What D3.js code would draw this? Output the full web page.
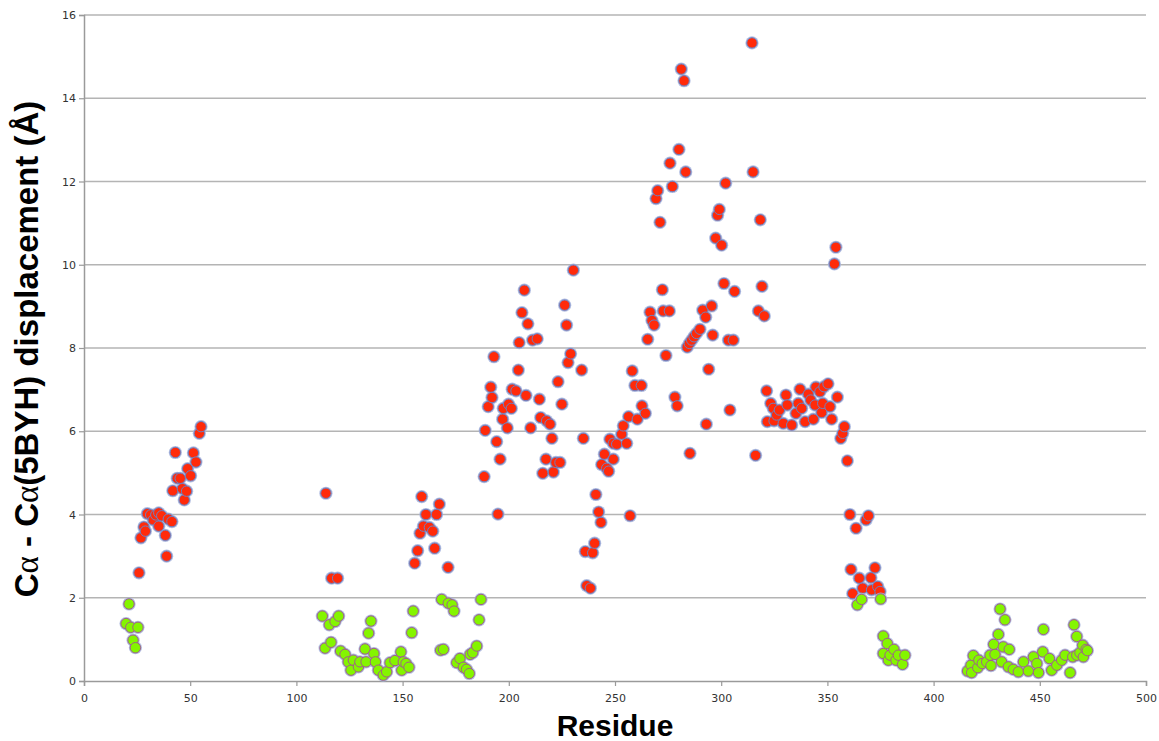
<!DOCTYPE html>
<html><head><meta charset="utf-8">
<script src="https://cdn.jsdelivr.net/npm/d3@7"></script>
<style>body{margin:0;background:#fff;}svg{display:block;}</style>
</head><body>
<script>
const xTicks = [0,50,100,150,200,250,300,350,400,450,500];
const yTicks = [0,2,4,6,8,10,12,14,16];

const redX = [25.9,26.8,28.2,28.9,29.8,31.4,32.6,33.8,35.2,35.2,36.6,38.3,38.9,39.7,41.4,41.8,43,43.9,45.3,46.3,47.2,48.3,48.8,50.2,51.5,52.7,54.3,55.1,
113.9,116.6,119.4,155.7,157.1,158.2,159,159.8,161,162.6,164.2,165.1,166,167.3,171.4,188.4,
188.9,190.3,191.5,192.1,193,194.3,194.9,195.9,197.1,197.4,199.3,199.9,201.2,201.6,203.4,204.5,204.9,206.2,207.3,208.1,209,210.3,211.2,213.4,214.4,215,216,217.5,217.8,219.4,220.3,221,222.2,223.2,224.1,225,226.3,227.2,227.9,229.1,230.4,234.3,235.1,
236,236.7,238.4,239.5,240.4,241,242.3,243.4,243.7,245,246.1,247,247.6,249.2,249.2,250.8,253.1,253.9,255.5,256.4,257.1,258.1,259.4,260.5,262.4,262.7,264.3,265.4,
266.5,267.4,268.4,269.3,270.1,271.2,272.3,272.7,274,275.6,275.9,277,278.2,279.3,280.1,281.2,282.5,283.3,284,285,285.3,286.1,287.2,288.4,290,291.3,292.7,293,294.1,295.5,296,297.4,298.3,299.1,300.2,301.3,302.1,303.4,304.1,305.7,306.3,314.5,315,316.2,317.5,318.4,319.2,320.3,
321.4,321.7,323.3,324.5,324.9,326.1,327.4,329.2,330.5,331.1,333.2,335.2,336.3,337.1,337.9,339.5,341,342.1,343.4,344.2,344.6,346.5,347.3,347.8,348.4,350.3,351.2,352,353.3,354,354.7,356.3,357.2,358,359.4,360.6,361.1,361.9,363.5,365,366.6,368.2,369.3,370.5,370.8,372.4,373.7,374.8];
const redY = [2.6,3.44,3.7,3.6,4.02,3.99,3.87,3.99,4.04,3.72,3.97,3.5,3.0,3.89,3.83,4.57,5.49,4.87,4.87,4.62,4.35,4.56,5.1,4.93,5.48,5.26,5.95,6.11,
4.51,2.47,2.47,2.83,3.13,3.55,4.43,3.72,4.0,3.69,3.6,3.19,4.0,4.25,2.73,4.91,
6.02,6.59,7.06,6.81,7.79,5.75,4.01,5.33,6.29,6.55,6.08,6.65,6.55,7.01,6.97,7.47,8.13,8.85,9.39,6.86,8.58,6.08,8.19,8.22,6.77,6.33,4.99,5.33,6.25,6.17,5.83,5.02,5.25,7.19,5.25,6.65,9.03,8.55,7.65,7.86,9.87,7.47,5.83,
3.11,2.29,2.23,3.08,3.31,4.48,4.06,3.81,5.2,5.45,5.11,5.04,5.81,5.71,5.33,5.69,5.93,6.13,5.71,6.35,3.97,7.45,7.1,6.29,7.1,6.61,6.43,8.21,
8.86,8.66,8.55,11.59,11.78,11.02,9.4,8.89,7.82,8.89,12.44,11.88,6.82,6.61,12.77,14.7,14.42,12.23,8.02,8.11,5.47,8.19,8.27,8.35,8.45,8.91,8.74,6.17,7.49,9.01,8.31,10.64,11.19,11.33,10.47,9.55,11.96,8.19,6.51,8.19,9.36,15.33,12.23,5.42,8.89,11.08,9.48,8.77,
6.97,6.23,6.67,6.55,6.25,6.39,6.51,6.19,6.87,6.63,6.15,6.43,6.67,7.01,6.55,6.23,6.89,6.75,6.29,6.63,7.06,6.95,6.45,6.67,7.07,7.14,6.59,6.29,10.02,10.42,6.82,5.83,5.95,6.11,5.29,4.0,2.68,2.1,3.67,2.47,2.23,3.87,3.97,2.48,2.19,2.72,2.27,2.15];

const greenX = [19.8,21.2,22,23.1,24.2,25.4,
112.2,113.5,115.5,116.3,118.2,119.9,120.8,122.9,124.4,125.7,126.8,129.2,129.9,132.3,132.8,134,135.1,136.5,137.2,138.6,140.9,142.5,144.1,146.4,149.2,149.6,150.3,151.6,153,154.3,155,167.9,169.2,168.4,171.5,173.3,174.2,175.5,177,178.6,180.1,181.4,181.8,183,184.9,186,186.9,
364.1,366.1,375.1,376.3,376.3,378.2,378.7,379.5,381.3,382.3,383.4,385.4,386.5,
416,417.6,417.9,418.7,420.8,421.3,422.9,425,426.6,427,428.3,428.9,430.5,431.3,432,432.8,433.6,435.2,435.6,437.5,439.9,442.3,444.6,447,448.6,449.4,451.4,451.7,454.5,455.6,458,460.3,461.9,464.3,465.5,466.1,467.4,467.4,468.9,470.2,470.5,471.8,472.4];
const greenY = [1.38,1.85,1.29,0.98,0.80,1.29,
1.56,0.79,1.35,0.93,1.43,1.56,0.72,0.64,0.46,0.26,0.5,0.34,0.46,0.77,0.46,1.15,1.44,0.66,0.46,0.26,0.14,0.22,0.44,0.49,0.7,0.26,0.46,0.42,0.33,1.16,1.68,0.74,0.76,1.96,1.87,1.83,1.68,0.44,0.54,0.33,0.28,0.18,0.64,0.68,0.84,1.47,1.96,
1.83,1.96,1.97,1.08,0.66,0.9,0.5,0.62,0.76,0.5,0.62,0.4,0.62,
0.24,0.38,0.2,0.61,0.32,0.5,0.42,0.46,0.62,0.37,0.88,0.64,1.12,1.73,0.46,0.82,1.47,0.34,0.76,0.28,0.22,0.46,0.24,0.58,0.42,0.2,0.7,1.24,0.54,0.26,0.38,0.5,0.62,0.2,0.58,1.35,1.07,0.62,0.68,0.86,0.58,0.76,0.73];

const W = 1159, H = 741;
const L = 84, R = 1146, T = 15, B = 681;
const svg = d3.select("body").append("svg").attr("width", W).attr("height", H);
const x = d3.scaleLinear().domain([0,500]).range([L,R]);
const y = d3.scaleLinear().domain([0,16]).range([B,T]);

// gridlines
svg.append("g").selectAll("line").data(yTicks.filter(d=>d>0)).join("line")
  .attr("x1", L).attr("x2", R).attr("y1", d=>y(d)).attr("y2", d=>y(d))
  .attr("stroke", "#b4b4b4").attr("stroke-width", 1.5);

const tickFont = "'DejaVu Sans', sans-serif";
const yAxis = svg.append("g").attr("transform", `translate(${L},0)`)
  .call(d3.axisLeft(y).tickValues(yTicks).tickSize(5).tickPadding(3).tickFormat(d3.format("d")));
const xAxis = svg.append("g").attr("transform", `translate(0,${B})`)
  .call(d3.axisBottom(x).tickValues(xTicks).tickSize(5).tickPadding(8).tickFormat(d3.format("d")));
[xAxis, yAxis].forEach(a => {
  a.select(".domain").attr("stroke", "#9a9a9a").attr("stroke-width", 1.5);
  a.selectAll(".tick line").attr("stroke", "#9a9a9a").attr("stroke-width", 1.2);
  a.selectAll(".tick text").attr("fill", "#333").style("font-family", tickFont).style("font-size", "11px");
});

function drawPts(xs, ys, fill, ring) {
  const data = xs.map((v,i)=>({x:v, y:ys[i]}));
  const g = svg.append("g");
  g.selectAll("circle.h").data(data).join("circle").attr("class","h")
    .attr("cx", d=>x(d.x)).attr("cy", d=>y(d.y)).attr("r", 6.6)
    .attr("fill", "#a4b3dc").attr("opacity", 0.85);
  g.selectAll("circle.p").data(data).join("circle").attr("class","p")
    .attr("cx", d=>x(d.x)).attr("cy", d=>y(d.y)).attr("r", 5.2)
    .attr("fill", fill).attr("stroke", ring).attr("stroke-width", 1);
}
drawPts(redX, redY, "#ff2a0a", "#6f80c0");
drawPts(greenX, greenY, "#84f500", "#a0608a");

// axis titles
svg.append("text").attr("x", (L+R)/2).attr("y", 736).attr("text-anchor", "middle")
  .style("font-family", "'Liberation Sans', Arial, sans-serif").style("font-weight", "bold").style("font-size", "30px")
  .attr("fill", "#000").text("Residue");

const yt = svg.append("text").attr("transform", `translate(38,349) rotate(-90)`).attr("text-anchor", "middle")
  .style("font-family", "'Liberation Sans', Arial, sans-serif").style("font-weight", "bold").style("font-size", "33px")
  .attr("fill", "#000");
yt.append("tspan").text("C");
yt.append("tspan").style("font-weight", "normal").style("font-family", "'Liberation Serif', serif").text("α");
yt.append("tspan").text(" - C");
yt.append("tspan").style("font-weight", "normal").style("font-family", "'Liberation Serif', serif").text("α");
yt.append("tspan").text("(5BYH) displacement (Å)");
</script>
</body></html>
